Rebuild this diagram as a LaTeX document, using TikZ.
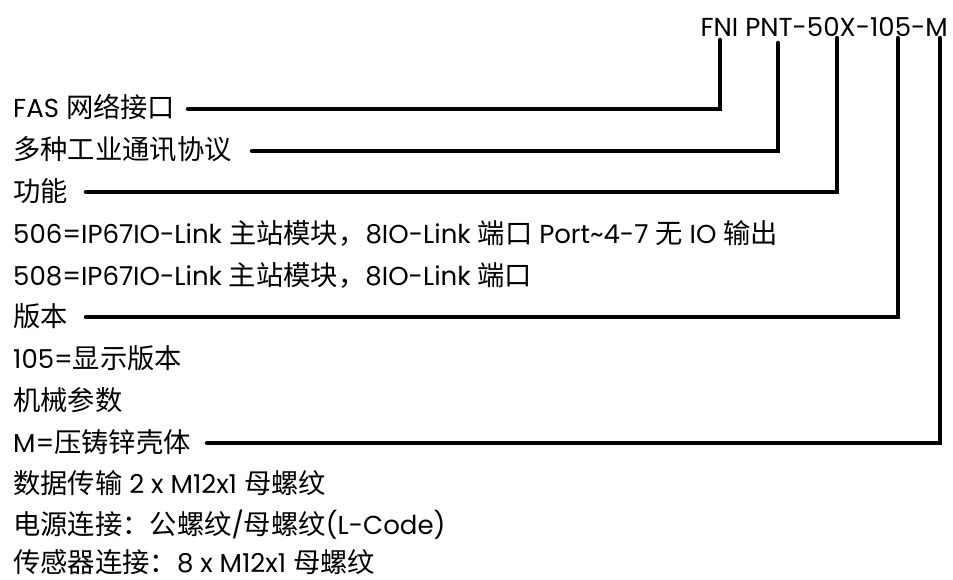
\documentclass[tikz,border=0pt]{standalone}
\usepackage{fontspec}
\setmainfont{Poppins}
\newfontfamily\cjkfont{Noto Sans CJK SC}
\newcommand\zh[1]{{\cjkfont\fontsize{27.3}{30}\selectfont #1}}
\begin{document}
\begin{tikzpicture}[x=1pt,y=-1pt,
  txt/.style={anchor=base west, inner sep=0pt, font=\fontsize{26}{30}\selectfont},
  conn/.style={line width=4.5pt, line cap=round, line join=miter}]
\useasboundingbox (0,0) rectangle (953,580);
\node[txt, anchor=base east] (title) at (948,37) {FNI PNT-50X-105-M};
\node[txt] (r0) at (13,118) {FAS \zh{网络接口}};
\node[txt] (r1) at (13,159.75) {\zh{多种工业通讯协议}};
\node[txt] (r2) at (13,201.5) {\zh{功能}};
\node[txt] (r3) at (13,243.25) {506=IP67IO-Link \zh{主站模块，}8IO-Link \zh{端口} Port\textasciitilde4-7 \zh{无} IO \zh{输出}};
\node[txt] (r4) at (13,285) {508=IP67IO-Link \zh{主站模块，}8IO-Link \zh{端口}};
\node[txt] (r5) at (13,326.75) {\zh{版本}};
\node[txt] (r6) at (13,368.5) {105=\zh{显示版本}};
\node[txt] (r7) at (13,410.25) {\zh{机械参数}};
\node[txt] (r8) at (13,452) {M=\zh{压铸锌壳体}};
\node[txt] (r9) at (13,493.75) {\zh{数据传输} 2 x M12x1 \zh{母螺纹}};
\node[txt] (r10) at (13,534.5) {\zh{电源连接：公螺纹}/\zh{母螺纹}(L-Code)};
\node[txt] (r11) at (13,572) {\zh{传感器连接：}8 x M12x1 \zh{母螺纹}};
\coordinate (t1) at (720,40);
\coordinate (t2) at (778,43);
\coordinate (t3) at (837,38);
\coordinate (t4) at (898,38);
\coordinate (t5) at (940,38);
\coordinate (s0) at (188,109);
\coordinate (s1) at (252,151);
\coordinate (s2) at (86,192);
\coordinate (s5) at (86,317);
\coordinate (s8) at (207,443);
\draw[conn] (s0) -| (t1);
\draw[conn] (s1) -| (t2);
\draw[conn] (s2) -| (t3);
\draw[conn] (s5) -| (t4);
\draw[conn] (s8) -| (t5);
\end{tikzpicture}
\end{document}
